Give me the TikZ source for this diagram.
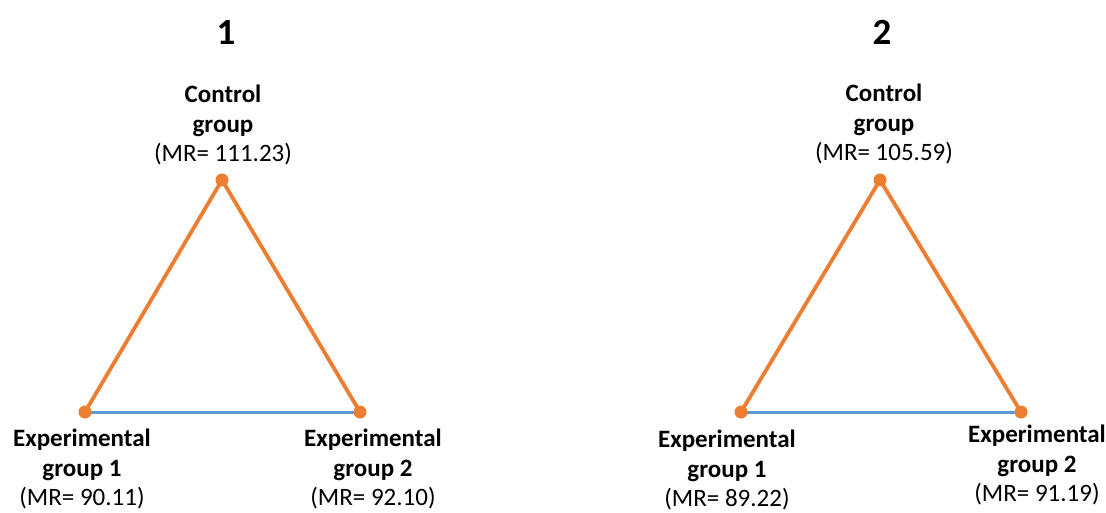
\documentclass[tikz,border=0pt]{standalone}
\usepackage{fontspec}
\setmainfont{Carlito}
\definecolor{edgeorange}{RGB}{237,125,49}
\definecolor{edgeblue}{RGB}{91,155,213}
\begin{document}
\begin{tikzpicture}[x=1pt,y=-1pt,
  vtx/.style={circle,fill=edgeorange,inner sep=0pt,minimum size=13pt},
  lbl/.style={align=center,inner sep=0pt,font=\fontsize{25}{29.5}\selectfont},
  ttl/.style={inner sep=0pt,font=\fontsize{37}{40}\selectfont\bfseries},
  oedge/.style={draw=edgeorange,line width=3.8pt},
  bedge/.style={draw=edgeblue,line width=3pt}]
\useasboundingbox (0,0) rectangle (1106,513);
% titles
\node[ttl] (t1) at (226,32) {1};
\node[ttl] (t2) at (882,32) {2};
% triangle 1
\coordinate (c1) at (222,180);
\coordinate (a1) at (85,412);
\coordinate (b1) at (360,412);
\draw[bedge] (a1) -- (b1);
\draw[oedge] (a1) -- (c1) -- (b1);
\node[vtx] (vc1) at (c1) {};
\node[vtx] (va1) at (a1) {};
\node[vtx] (vb1) at (b1) {};
\node[lbl] (lc1) at (223,125) {\textbf{Control}\\\textbf{group}\\(MR= 111.23)};
\node[lbl] (la1) at (82,469) {\textbf{Experimental}\\\textbf{group 1}\\(MR= 90.11)};
\node[lbl] (lb1) at (373,469) {\textbf{Experimental}\\\textbf{group 2}\\(MR= 92.10)};
% triangle 2
\coordinate (c2) at (880,180);
\coordinate (a2) at (741,412);
\coordinate (b2) at (1021,412);
\draw[bedge] (a2) -- (b2);
\draw[oedge] (a2) -- (c2) -- (b2);
\node[vtx] (vc2) at (c2) {};
\node[vtx] (va2) at (a2) {};
\node[vtx] (vb2) at (b2) {};
\node[lbl] (lc2) at (884,124) {\textbf{Control}\\\textbf{group}\\(MR= 105.59)};
\node[lbl] (la2) at (727,470) {\textbf{Experimental}\\\textbf{group 1}\\(MR= 89.22)};
\node[lbl] (lb2) at (1037,465) {\textbf{Experimental}\\\textbf{group 2}\\(MR= 91.19)};
\end{tikzpicture}
\end{document}
